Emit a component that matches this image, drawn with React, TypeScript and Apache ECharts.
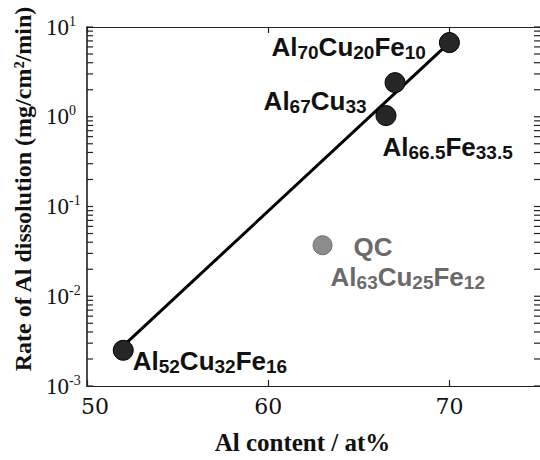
import React, { useEffect, useRef } from "react";
import * as echarts from "echarts";

// ---- data ----
const alloyNames = ["Al52Cu32Fe16", "Al66.5Fe33.5", "Al67Cu33", "Al70Cu20Fe10"];
const alloyAl = [52, 66.5, 67, 70];
const alloyRate = [0.0025, 1.03, 2.4, 6.7];

const qcLabel = "QC";
const qcName = "Al63Cu25Fe12";
const qcAl = [63];
const qcRate = [0.037];

const fitAl = [52, 70];
const fitRate = [0.0028, 6.7];

const xMin = 50;
const xMax = 75;
const yMin = 0.001;
const yMax = 10;
const decadeExps = [-3, -2, -1, 0, 1];

const xTitle = "Al content / at%";
const yTitle = "Rate of Al dissolution (mg/cm\u00B2/min)";

function formula(name: string): string {
  return name.replace(/([A-Z][a-z]?)([\d.]+)/g, "{m|$1}{s|$2}");
}

// label placement (style, not data)
const alloyLabelPlace = [
  { position: "right", offset: [-1, 11] },
  { position: "right", offset: [-14, 31] },
  { position: "left", offset: [-18, 18] },
  { position: "left", offset: [-13, 4] },
];

const richLabel = (color: string) => ({
  m: {
    fontFamily: "Liberation Sans",
    fontWeight: "bold",
    fontSize: 26,
    lineHeight: 30,
    color,
  },
  s: {
    fontFamily: "Liberation Sans",
    fontWeight: "bold",
    fontSize: 19,
    lineHeight: 12,
    verticalAlign: "bottom",
    color,
  },
  q: {
    fontFamily: "Liberation Sans",
    fontWeight: "bold",
    fontSize: 26,
    lineHeight: 30,
    padding: [0, 0, 0, 23],
    color,
  },
});

export default function App() {
  const ref = useRef<HTMLDivElement>(null);

  useEffect(() => {
    if (!ref.current) return;
    const chart = echarts.init(ref.current, undefined, { renderer: "svg" });

    // tick positions on the log axis (decades and 2..9 subdivisions)
    const tickVals: number[][] = [];
    decadeExps.forEach((e) => {
      const base = Math.pow(10, e);
      tickVals.push([xMin, base, 1]);
      if (e < 1) {
        for (let k = 2; k <= 9; k++) tickVals.push([xMin, k * base, 0]);
      }
    });

    const option: any = {
      animation: false,
      backgroundColor: "#ffffff",
      grid: { left: 87, top: 27, width: 457, height: 365 },
      xAxis: [
        {
          type: "value",
          position: "bottom",
          min: xMin,
          max: xMax,
          interval: 10,
          splitLine: { show: false },
          axisLine: { lineStyle: { color: "#222", width: 1.2 } },
          axisTick: { inside: true, length: 6, lineStyle: { color: "#222", width: 1.2 } },
          axisLabel: {
            margin: 9,
            showMaxLabel: false,
            formatter: (v: number) => (v === 50 ? "{f|" + v + "}" : "{n|" + v + "}"),
            rich: {
              n: { fontFamily: "DejaVu Serif", fontSize: 22, color: "#111" },
              f: { fontFamily: "DejaVu Serif", fontSize: 22, color: "#111", padding: [0, 0, 0, 16] },
            },
          },
          name: xTitle,
          nameLocation: "middle",
          nameGap: 44,
          nameTextStyle: {
            fontFamily: "Liberation Serif",
            fontWeight: "bold",
            fontSize: 25,
            color: "#111",
            padding: [0, 22, 0, 0],
          },
        },
        {
          type: "value",
          position: "top",
          min: xMin,
          max: xMax,
          interval: 10,
          splitLine: { show: false },
          axisLine: { lineStyle: { color: "#222", width: 1.2 } },
          axisTick: { inside: true, length: 6, lineStyle: { color: "#222", width: 1.2 } },
          axisLabel: { show: false },
        },
      ],
      yAxis: [
        {
          type: "log",
          logBase: 10,
          min: yMin,
          max: yMax,
          splitNumber: 4,
          splitLine: { show: false },
          axisLine: { show: true, lineStyle: { color: "#111", width: 1.5 } },
          axisTick: { show: false },
          axisLabel: {
            margin: 41,
            align: "left",
            formatter: (v: number) => "{b|10}{p|" + Math.round(Math.log10(v)) + "}",
            rich: {
              b: { fontFamily: "Liberation Serif", fontSize: 23, lineHeight: 26, color: "#111" },
              p: {
                fontFamily: "Liberation Serif",
                fontSize: 14,
                lineHeight: 12,
                verticalAlign: "top",
                color: "#111",
              },
            },
          },
          name: yTitle,
          nameLocation: "middle",
          nameRotate: 90,
          nameGap: 46,
          nameTextStyle: {
            fontFamily: "Liberation Serif",
            fontWeight: "bold",
            fontSize: 24,
            color: "#111",
            padding: [0, 0, 0, 35],
          },
        },
      ],
      series: [
        {
          type: "custom",
          coordinateSystem: "cartesian2d",
          silent: true,
          clip: false,
          encode: { x: 0, y: 1 },
          data: tickVals,
          renderItem: (params: any, api: any) => {
            const v = api.value(1);
            const l = api.coord([xMin, v]);
            const r = api.coord([xMax, v]);
            const len = 6;
            const st = { stroke: "#222", lineWidth: 1.2 };
            return {
              type: "group",
              children: [
                { type: "line", shape: { x1: l[0], y1: l[1], x2: l[0] + len, y2: l[1] }, style: st },
                { type: "line", shape: { x1: r[0] - len, y1: r[1], x2: r[0], y2: r[1] }, style: st },
              ],
            };
          },
        },
        {
          type: "line",
          data: fitAl.map((x, i) => [x, fitRate[i]]),
          showSymbol: false,
          symbol: "none",
          lineStyle: { color: "#000", width: 3 },
          z: 2,
        },
        {
          type: "scatter",
          z: 3,
          symbolSize: 20,
          itemStyle: { color: "#262626", borderColor: "#000", borderWidth: 1, opacity: 1 },
          data: alloyAl.map((x, i) => ({
            value: [x, alloyRate[i]],
            label: {
              show: true,
              position: alloyLabelPlace[i].position,
              distance: 0,
              offset: alloyLabelPlace[i].offset,
              formatter: formula(alloyNames[i]),
              rich: richLabel("#111"),
            },
          })),
        },
        {
          type: "scatter",
          z: 3,
          symbolSize: 19,
          itemStyle: { color: "#8c8c8c", borderColor: "#6e6e6e", borderWidth: 1, opacity: 1 },
          data: qcAl.map((x, i) => ({
            value: [x, qcRate[i]],
            label: {
              show: true,
              position: "right",
              distance: 0,
              offset: [-2, 17],
              align: "left",
              formatter: "{q|" + qcLabel + "}\n" + formula(qcName),
              rich: richLabel("#6a6a6a"),
            },
          })),
        },
      ],
    };

    chart.setOption(option);
    return () => chart.dispose();
  }, []);

  return (
    <div
      ref={ref}
      style={{ position: "absolute", left: 0, top: 0, width: 540, height: 460 }}
    />
  );
}
